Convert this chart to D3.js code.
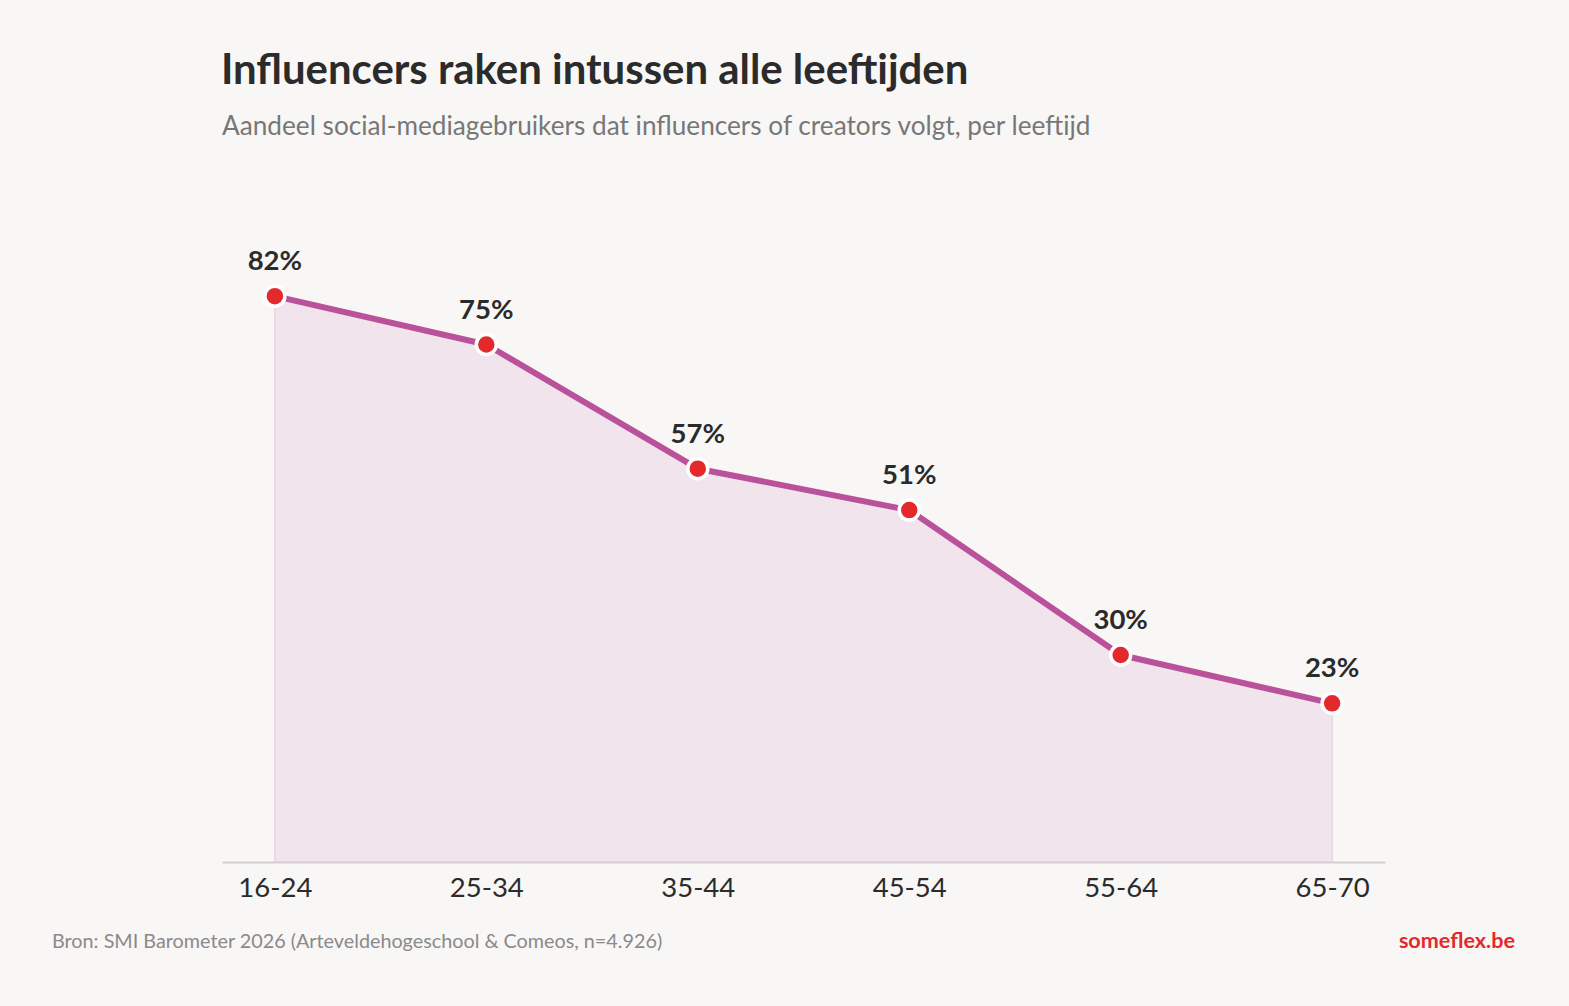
<!DOCTYPE html>
<html>
<head>
<meta charset="utf-8">
<script src="https://cdn.jsdelivr.net/npm/d3@7"></script>
<style>
  html, body { margin: 0; padding: 0; background: #f8f7f5; }
  svg { display: block; font-family: Lato, "Noto Sans", sans-serif; }
</style>
</head>
<body>
<div id="chart"></div>
<script>
// data
const ageGroups = ["16-24", "25-34", "35-44", "45-54", "55-64", "65-70"];
const shares = [82, 75, 57, 51, 30, 23];

const title = "Influencers raken intussen alle leeftijden";
const subtitle = "Aandeel social-mediagebruikers dat influencers of creators volgt, per leeftijd";
const source = "Bron: SMI Barometer 2026 (Arteveldehogeschool & Comeos, n=4.926)";
const brand = "someflex.be";

const W = 1569, H = 1006;
const plot = {left: 222, right: 1385, top: 172, bottom: 862};

const svg = d3.select("#chart").append("svg")
    .attr("width", W)
    .attr("height", H);

svg.append("rect").attr("width", W).attr("height", H).attr("fill", "#f8f7f5");

const data = ageGroups.map((g, i) => ({group: g, value: shares[i]}));

const xScale = d3.scalePoint().domain(ageGroups).range([plot.left, plot.right]).padding(0.25);
const yScale = d3.scaleLinear().domain([0, 100]).range([plot.bottom, plot.top]);

// titles
svg.append("text")
    .attr("x", 221).attr("y", 84)
    .attr("font-size", 41.9).attr("font-weight", 700)
    .attr("fill", "#2b2b2b")
    .text(title);

svg.append("text")
    .attr("x", 222).attr("y", 135)
    .attr("font-size", 26.2)
    .attr("fill", "#777")
    .text(subtitle);

// area
const area = d3.area()
    .x(d => xScale(d.group))
    .y0(yScale(0))
    .y1(d => yScale(d.value));

svg.append("path")
    .datum(data)
    .attr("d", area)
    .attr("fill", "#f2e4ec")
    .attr("stroke", "#e8d5e0")
    .attr("stroke-width", 1.5);

// axis
const xAxis = d3.axisBottom(xScale).tickSize(0).tickPadding(15);
const axisG = svg.append("g")
    .attr("transform", "translate(0," + plot.bottom + ")")
    .call(xAxis);
axisG.select(".domain").attr("stroke", "#d6cfd0").attr("stroke-width", 2);
axisG.selectAll("text")
    .attr("font-size", 27.5)
    .attr("font-family", "Lato, sans-serif")
    .attr("fill", "#2b2b2b");

// line
const line = d3.line()
    .x(d => xScale(d.group))
    .y(d => yScale(d.value));

svg.append("path")
    .datum(data)
    .attr("d", line)
    .attr("fill", "none")
    .attr("stroke", "#b9529b")
    .attr("stroke-width", 6)
    .attr("stroke-linejoin", "round");

// markers
const markerG = svg.selectAll(".markerG")
    .data(data)
    .join("g")
    .attr("class", "markerG")
    .attr("transform", d => `translate(${xScale(d.group)},${yScale(d.value)})`);

markerG.append("circle")
    .attr("r", 10)
    .attr("fill", "#e4292c")
    .attr("stroke", "#fff")
    .attr("stroke-width", 3.5);

markerG.append("text")
    .attr("y", -26)
    .attr("text-anchor", "middle")
    .attr("font-size", 27.5)
    .attr("font-weight", 700)
    .attr("fill", "#2b2b2b")
    .text(d => d.value + "%");

// footer
svg.append("text")
    .attr("x", 52).attr("y", 948)
    .attr("font-size", 19.8)
    .attr("fill", "#8a8a8a")
    .text(source);

svg.append("text")
    .attr("x", 1515).attr("y", 948)
    .attr("text-anchor", "end")
    .attr("font-size", 21.6)
    .attr("font-weight", 700)
    .attr("fill", "#e4292c")
    .text(brand);
</script>
</body>
</html>
